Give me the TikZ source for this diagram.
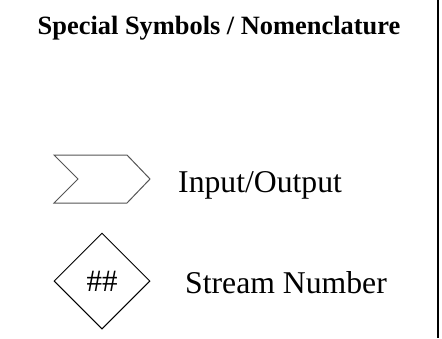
\documentclass[tikz,border=0pt]{standalone}
\usepackage{fontspec}
\setmainfont{Liberation Serif}
\usepackage{tikz}
\usetikzlibrary{shapes.geometric, positioning}
\definecolor{InkBlack}{HTML}{000000}
\definecolor{EdgeGray}{HTML}{555555}

\begin{document}
\begin{tikzpicture}[x=1pt, y=-1pt]
    \useasboundingbox (0,0) rectangle (442,338);
    \draw[InkBlack, line width=2pt] (437.5,0) -- (437.5,338);
    \node[anchor=base, inner sep=0pt] (title) at (219,34)
      {\fontsize{26.4}{30}\selectfont\bfseries Special Symbols / Nomenclature};
    % input/output chevron
    \draw[EdgeGray, line width=1pt, line join=miter]
      (54,155) -- (127,155) -- (150,179) -- (127,203) -- (54,203) -- (78,179) -- cycle;
    \node[anchor=base west, inner sep=0pt] (iolabel) at (178,192)
      {\fontsize{31.7}{36}\selectfont Input/Output};
    % stream number diamond
    \node[draw=InkBlack, line width=1pt, diamond, aspect=1, minimum size=96pt, inner sep=0pt] (stream) at (102,281)
      {\fontsize{31}{36}\selectfont\#\#};
    \node[anchor=base west, inner sep=0pt] (streamlabel) at (185,293)
      {\fontsize{31.7}{36}\selectfont Stream Number};
  \end{tikzpicture}
\end{document}
